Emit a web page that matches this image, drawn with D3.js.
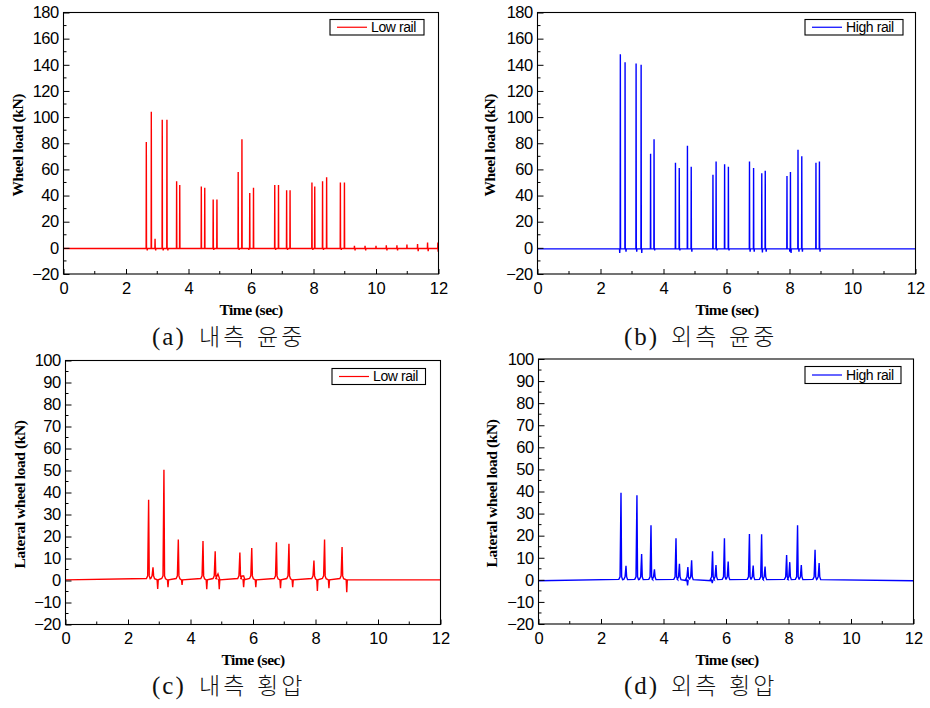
<!DOCTYPE html>
<html><head><meta charset="utf-8">
<script src="https://cdn.jsdelivr.net/npm/d3@7"></script>
<style>
body{margin:0;background:#fff;}
svg{display:block;}
</style></head>
<body>
<svg id="chart" width="930" height="708"></svg>
<script>
// ---------- DATA ----------
const xTicks = [0, 2, 4, 6, 8, 10, 12];
const yTicksLoad = [-20, 0, 20, 40, 60, 80, 100, 120, 140, 160, 180];
const yTicksLat = [-20, -10, 0, 10, 20, 30, 40, 50, 60, 70, 80, 90, 100];

// (a) Low rail wheel load
const aTimes = [2.65,2.81,2.93,3.16,3.31,3.62,3.72,4.41,4.52,4.79,4.91,5.59,5.71,5.96,6.08,6.76,6.88,7.14,7.25,7.95,8.04,8.29,8.42,8.86,8.99,9.31,9.65,10.0,10.33,10.67,10.99,11.33,11.65,11.98];
const aPeaks = [81,104,7,98,98,51,48,47,46,37,37,58,83,42,46,48,48,44,44,50,47,51,54,50,50,1.5,1.5,1.5,2,2,2.5,3,4,4];
const aDipTimes = [2.68,2.95,3.19,3.34,4.81,5.62,5.93,6.79,7.17,7.98,8.32,8.89,9.33,9.67,10.35,10.69,11.35,11.67,11.99];
const aDips = [-2,-2,-2,-2,-1.5,-1.5,-1.5,-1.5,-1.5,-1.5,-1.5,-1.5,-2,-2,-2,-2,-2.5,-2.5,-3];

// (b) High rail wheel load
const bTimes = [2.63,2.78,3.13,3.29,3.59,3.70,4.38,4.50,4.76,4.88,5.57,5.67,5.94,6.06,6.73,6.86,7.12,7.23,7.92,8.03,8.27,8.39,8.84,8.95];
const bPeaks = [148,142,141,140,72,83,65,61,78,62,56,66,64,62,66,61,57,59,55,58,75,70,65,66];
const bDipTimes = [2.61,2.81,3.15,3.31,3.72,4.52,4.90,5.70,6.08,6.75,6.88,7.14,7.26,8.01,8.05,8.30,8.41,8.97];
const bDips = [-4,-3,-3,-4,-2,-2,-3,-2,-2,-3,-3,-3.5,-3,-3,-4,-3,-3,-3];

// (c) Low rail lateral wheel load
const cTimes = [2.66,2.80,3.15,3.61,4.40,4.79,4.88,5.58,5.68,5.96,6.75,7.15,7.95,8.29,8.85];
const cPeaks = [36.7,6,50.3,18.6,17.9,13.3,3,12.7,2,14.8,17.4,16.7,9.1,18.6,15.2];
const cDipTimes = [2.95,3.28,3.73,4.52,4.92,5.70,6.09,6.88,7.27,8.06,8.43,9.00];
const cDips = [-3.8,-3,-2,-4,-4,-3,-3,-3.5,-3,-4.8,-3.5,-5.3];

// (d) High rail lateral wheel load
const dTimes = [2.64,2.80,3.15,3.30,3.60,3.71,4.40,4.51,4.78,4.90,5.57,5.68,5.95,6.07,6.75,6.87,7.14,7.25,7.94,8.04,8.29,8.41,8.85,8.98];
const dPeaks = [39.4,6.4,38.3,11.7,24.7,4.8,18.8,7.3,5.8,8.8,12.9,6.7,18.8,8.3,20.8,6.5,20.6,6,11.2,8,24.7,6.7,13.6,7.6];
const dDipTimes = [4.77,5.56];
const dDips = [-2.5,-1.5];

// ---------- LAYOUT ----------
const panels = [
  {id:"a", times:aTimes, peaks:aPeaks, dipT:aDipTimes, dips:aDips, base:-0.5, sharp:true,
   L:63.5, R:438.5, T:12.5, B:274, yDomain:[-20,180], yTicks:yTicksLoad, yMinorStep:10,
   color:"#ff0000", legend:"Low rail", ytitle:"Wheel load (kN)",
   legBox:[330,19.5,94,15.5], cap:["(a)","내측","윤중"], capL:152, capY:345, titleX:18, timeX:251, timeY:315},
  {id:"b", times:bTimes, peaks:bPeaks, dipT:bDipTimes, dips:bDips, base:-0.8, sharp:true,
   L:537.5, R:915.5, T:12.5, B:274, yDomain:[-20,180], yTicks:yTicksLoad, yMinorStep:10,
   color:"#0000ff", legend:"High rail", ytitle:"Wheel load (kN)",
   legBox:[805,19.5,98,15.5], cap:["(b)","외측","윤중"], capL:624, capY:345, titleX:490, timeX:727, timeY:315},
  {id:"c", times:cTimes, peaks:cPeaks, dipT:cDipTimes, dips:cDips, base:0.3, sharp:false,
   L:65.5, R:440.5, T:360.5, B:624.5, yDomain:[-20,100], yTicks:yTicksLat, yMinorStep:5,
   color:"#ff0000", legend:"Low rail", ytitle:"Lateral wheel load (kN)",
   legBox:[332,368.5,93.5,16], cap:["(c)","내측","횡압"], capL:152, capY:694, titleX:20, timeX:253, timeY:665},
  {id:"d", times:dTimes, peaks:dPeaks, dipT:dDipTimes, dips:dDips, base:-0.4, sharp:false,
   L:538.5, R:913.5, T:359, B:624, yDomain:[-20,100], yTicks:yTicksLat, yMinorStep:5,
   color:"#0000ff", legend:"High rail", ytitle:"Lateral wheel load (kN)",
   legBox:[805,366.5,96,17], cap:["(d)","외측","횡압"], capL:624, capY:694, titleX:492, timeX:727, timeY:665}
];

const svg = d3.select("#chart");
const tickFont = "'Liberation Sans', Arial, sans-serif";
const serif = "'Liberation Serif', 'Times New Roman', serif";

function buildPoints(p){
  const ev = [];
  p.times.forEach((t,i)=>ev.push({t, v:p.peaks[i], kind:"peak"}));
  p.dipT.forEach((t,i)=>ev.push({t, v:p.dips[i], kind:"dip"}));
  ev.sort((a,b)=>a.t-b.t);
  const pts = [[0,p.base]];
  const w = p.sharp ? 0.006 : 0.018;
  ev.forEach(e=>{
    if(!p.sharp && e.kind==="peak"){
      pts.push([e.t-0.07, p.base+0.6],[e.t-0.03, p.base+1.8],[e.t, e.v],[e.t+0.02, p.base+1.8],[e.t+0.05, p.base+0.5]);
    } else {
      pts.push([e.t-w, p.base],[e.t, e.v],[e.t+w, p.base]);
    }
  });
  pts.push([12,p.base]);
  return pts;
}

panels.forEach(p=>{
  const x = d3.scaleLinear().domain([0,12]).range([p.L,p.R]);
  const y = d3.scaleLinear().domain(p.yDomain).range([p.B,p.T]);
  const g = svg.append("g");

  g.append("clipPath").attr("id","clip-"+p.id)
    .append("rect").attr("x",p.L).attr("y",p.T).attr("width",p.R-p.L).attr("height",p.B-p.T);

  const line = d3.line().x(d=>x(d[0])).y(d=>y(d[1]));
  g.append("path").datum(buildPoints(p))
    .attr("clip-path","url(#clip-"+p.id+")")
    .attr("fill","none").attr("stroke",p.color).attr("stroke-width",1.4)
    .attr("stroke-linejoin","miter").attr("d",line);

  g.append("rect").attr("x",p.L).attr("y",p.T).attr("width",p.R-p.L).attr("height",p.B-p.T)
    .attr("fill","none").attr("stroke","#000").attr("stroke-width",1.1);

  const xa = g.append("g").attr("transform",`translate(0,${p.B})`)
    .call(d3.axisBottom(x).tickValues(xTicks).tickSize(-5).tickSizeOuter(0).tickPadding(5).tickFormat(d3.format("d")));
  xa.select(".domain").remove();
  xa.selectAll("text").attr("font-family",tickFont).attr("font-size",16.5).attr("fill","#000").attr("dy","0.9em");
  const xMinor = d3.range(1,12,2);
  g.append("g").selectAll("line").data(xMinor).join("line")
    .attr("x1",d=>x(d)).attr("x2",d=>x(d)).attr("y1",p.B).attr("y2",p.B-3).attr("stroke","#000");

  const ya = g.append("g").attr("transform",`translate(${p.L},0)`)
    .call(d3.axisLeft(y).tickValues(p.yTicks).tickSize(-6).tickSizeOuter(0).tickPadding(5).tickFormat(d3.format("d")));
  ya.select(".domain").remove();
  ya.selectAll("text").attr("font-family",tickFont).attr("font-size",16.5).attr("letter-spacing",-0.6).attr("fill","#000");
  const yMinor = d3.range(p.yDomain[0]+p.yMinorStep, p.yDomain[1], p.yMinorStep*2);
  g.append("g").selectAll("line").data(yMinor).join("line")
    .attr("x1",p.L).attr("x2",p.L+3).attr("y1",d=>y(d)).attr("y2",d=>y(d)).attr("stroke","#000");

  const [lx,ly,lw,lh] = p.legBox;
  g.append("rect").attr("x",lx).attr("y",ly).attr("width",lw).attr("height",lh)
    .attr("fill","#fff").attr("stroke","#000").attr("stroke-width",1.1);
  g.append("line").attr("x1",lx+7).attr("x2",lx+37).attr("y1",ly+lh/2).attr("y2",ly+lh/2)
    .attr("stroke",p.color).attr("stroke-width",1.2);
  g.append("text").attr("x",lx+41).attr("y",ly+lh/2+4.8).text(p.legend)
    .attr("font-family",tickFont).attr("font-size",14).attr("letter-spacing",-0.4).attr("fill","#000");

  g.append("text").attr("x",p.timeX).attr("y",p.timeY).attr("text-anchor","middle")
    .attr("font-family",serif).attr("font-weight","bold").attr("font-size",15.5).attr("letter-spacing",-0.5)
    .text("Time (sec)");
  const cy = (p.T+p.B)/2 + 2;
  g.append("text").attr("transform",`translate(${p.titleX+5},${cy}) rotate(-90)`).attr("text-anchor","middle")
    .attr("font-family",serif).attr("font-weight","bold").attr("font-size",15.5).attr("letter-spacing",-0.4)
    .text(p.ytitle);

  // caption pieces
  const capFont = "'Liberation Serif', 'Noto Sans CJK KR', serif";
  const offs = [0, 47, 105];
  p.cap.forEach((s,i)=>{
    g.append("text").attr("x",p.capL+offs[i]).attr("y",p.capY)
      .attr("font-family",capFont).attr("font-size",i===0?25:23).attr("font-weight",i===0?400:300)
      .attr("letter-spacing",i===0?2:3).attr("fill","#111").text(s);
  });
});
</script>
</body></html>
